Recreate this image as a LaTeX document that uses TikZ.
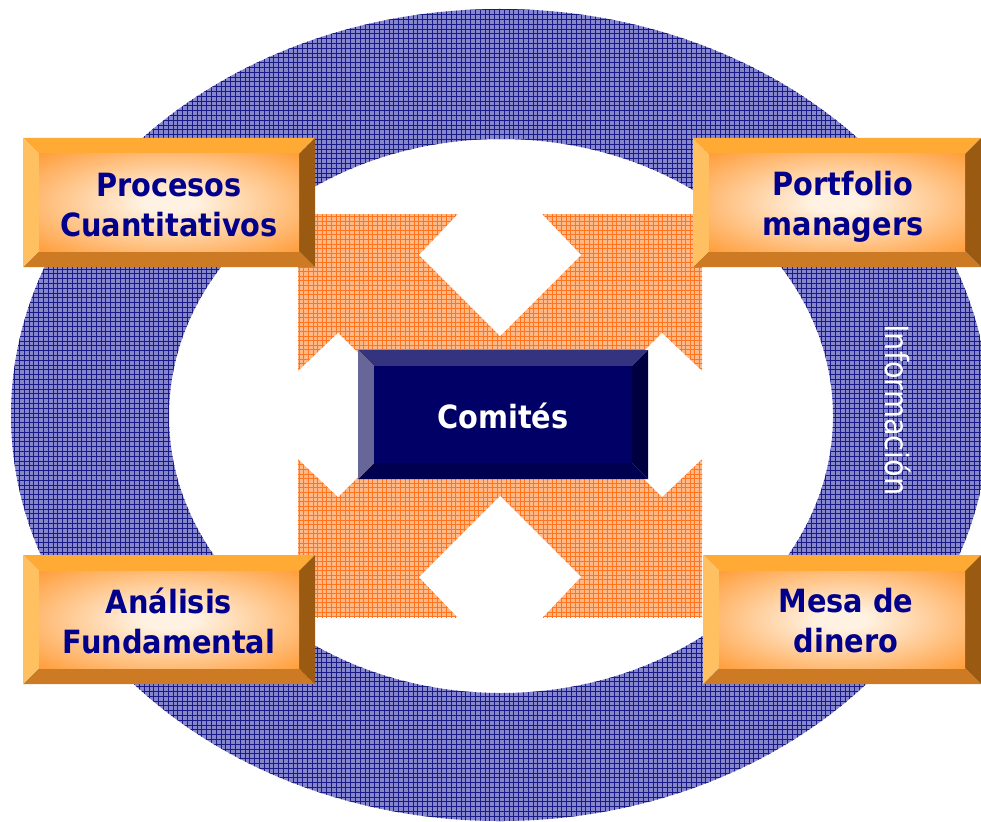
\documentclass[tikz,border=0pt]{standalone}
\usepackage{fontspec}
\setmainfont{DejaVu Sans}[FakeStretch=0.9]

\definecolor{ringfill}{RGB}{134,134,204}
\definecolor{ringline}{RGB}{26,26,134}
\definecolor{crossfill}{RGB}{255,184,134}
\definecolor{crossline}{RGB}{255,116,30}
\definecolor{boxtext}{RGB}{0,0,140}
% orange bevel boxes
\definecolor{ortop}{RGB}{255,170,52}
\definecolor{orleft}{RGB}{255,192,98}
\definecolor{orright}{RGB}{154,90,18}
\definecolor{orbottom}{RGB}{204,122,36}
\definecolor{orin}{RGB}{255,242,226}
\definecolor{orout}{RGB}{255,156,56}
% navy bevel box
\definecolor{cotop}{RGB}{51,51,128}
\definecolor{coleft}{RGB}{102,102,153}
\definecolor{coright}{RGB}{0,0,64}
\definecolor{cobottom}{RGB}{0,0,80}
\definecolor{coface}{RGB}{0,0,102}

\pgfdeclareradialshading{glow}{\pgfpoint{0bp}{0bp}}{%
  color(0bp)=(orin); color(5bp)=(orin); color(36bp)=(orout); color(50bp)=(orout)}

% #1,#2 top left, #3,#4 bottom right, #5 colour prefix, #6 face
\newcommand{\bevelbox}[6]{%
  \fill[#5top] (#1,#2) -- (#3,#2) -- ({#3-16},{#2+16}) -- ({#1+16},{#2+16}) -- cycle;
  \fill[#5bottom] (#1,#4) -- (#3,#4) -- ({#3-16},{#4-16}) -- ({#1+16},{#4-16}) -- cycle;
  \fill[#5left] (#1,#2) -- ({#1+16},{#2+16}) -- ({#1+16},{#4-16}) -- (#1,#4) -- cycle;
  \fill[#5right] (#3,#2) -- ({#3-16},{#2+16}) -- ({#3-16},{#4-16}) -- (#3,#4) -- cycle;
  \path[#6] ({#1+16},{#2+16}) rectangle ({#3-16},{#4-16});
}

\tikzset{
  boxlabel/.style={font=\bfseries\fontsize{32}{40}\selectfont, text=boxtext, align=center},
  orface/.style={shading=glow},
}

\begin{document}
\begin{tikzpicture}[x=1pt, y=-1pt]
  \useasboundingbox (0,0) rectangle (981,821);

  % ring
  \begin{scope}[even odd rule]
    \clip (500,415) ellipse [x radius=489, y radius=406]
          (501,416) ellipse [x radius=332, y radius=277];
    \fill[ringfill] (0,0) rectangle (995,830);
    \draw[ringline, line width=0.45pt, step=4.8pt] (0,0) grid (995,830);
  \end{scope}

  % orange cross
  \begin{scope}
    \clip (298,214) rectangle (702,617);
    \fill[crossfill] (298,214) rectangle (702,617);
    \draw[crossline, line width=0.45pt, step=4.6pt] (290,210) grid (710,620);
  \end{scope}
  \fill[white] (459,213) -- (419,255) -- (500,336) -- (581,255) -- (541,213) -- cycle;
  \fill[white] (459,619) -- (419,577) -- (500,496) -- (581,577) -- (541,619) -- cycle;
  \fill[white] (296,373) -- (338,333) -- (420,415) -- (338,497) -- (296,457) -- cycle;
  \fill[white] (704,373) -- (662,333) -- (580,415) -- (662,497) -- (704,457) -- cycle;

  % centre
  \bevelbox{358}{350}{648}{479}{co}{fill=coface}
  \node[font=\bfseries\fontsize{32}{40}\selectfont, text=white] (comites) at (503,416) {Comités};

  % corners
  \bevelbox{23}{138}{315}{267}{or}{orface}
  \bevelbox{693}{138}{981}{267}{or}{orface}
  \bevelbox{23}{555}{315}{684}{or}{orface}
  \bevelbox{703}{555}{981}{684}{or}{orface}
  \node[boxlabel] (procesos) at (169,205) {Procesos\\Cuantitativos};
  \node[boxlabel] (portfolio) at (843,207) {Portfolio\\managers};
  \node[boxlabel] (analisis) at (169,621) {Análisis\\Fundamental};
  \node[boxlabel] (mesa) at (846,621) {Mesa de\\dinero};

  \node[font=\fontsize{32}{40}\selectfont, text=white, rotate=-90, anchor=base] (info) at (885,410) {Información};
\end{tikzpicture}
\end{document}
